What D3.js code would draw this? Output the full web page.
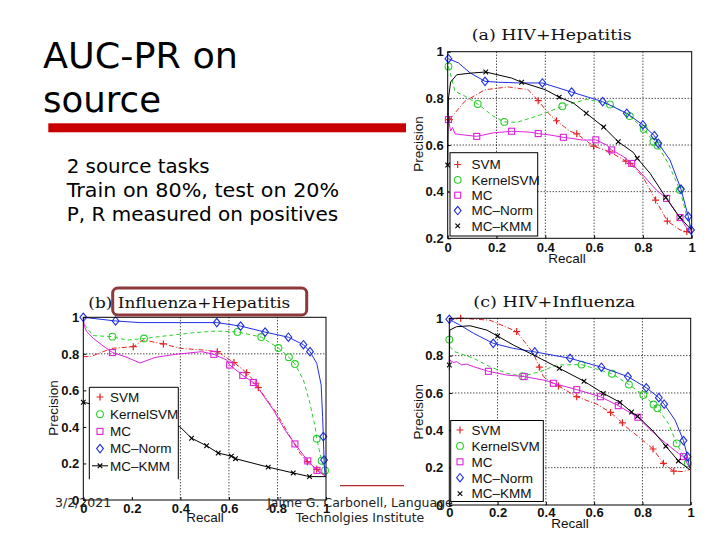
<!DOCTYPE html>
<html><head><meta charset="utf-8">
<script src="https://cdn.jsdelivr.net/npm/d3@7"></script>
<style>body{margin:0;background:#fff} svg{display:block}</style>
</head><body>
<svg id="c" width="720" height="540"></svg>
<script>
// ---------------- data ----------------
const seriesNames = ["SVM", "KernelSVM", "MC", "MC\u2013Norm", "MC\u2013KMM"];
const xTickValues = [0, 0.2, 0.4, 0.6, 0.8, 1];
const yTickValuesA = [0.2, 0.4, 0.6, 0.8, 1];
const yTickValuesBC = [0, 0.2, 0.4, 0.6, 0.8, 1];
const plotTitles = ["(a) HIV+Hepatitis", "(b) Influenza+Hepatitis", "(c) HIV+Influenza"];
const slideTitle = ["AUC-PR on", "source"];
const bullets = ["2 source tasks", "Train on 80%, test on 20%", "P, R measured on positives"];
const footerDate = "3/2/2021";
const footerAuthor = ["Jaime G. Carbonell, Language", "Technolgies Institute"];

// each point: [recall, precision, marker shown (1/0)]
const aSVM = [[0.007,0.709,1],[0.07,0.787,0],[0.153,0.837,0],[0.248,0.849,0],[0.33,0.837,0],[0.371,0.79,1],[0.412,0.737,0],[0.446,0.704,1],[0.501,0.659,0],[0.529,0.648,1],[0.598,0.595,1],[0.664,0.571,1],[0.73,0.531,1],[0.748,0.521,1],[0.8,0.464,0],[0.852,0.364,1],[0.9,0.274,1],[0.952,0.236,0],[0.98,0.229,1],[1.0,0.221,0]];
const aKernelSVM = [[0.003,0.937,1],[0.03,0.83,0],[0.07,0.81,0],[0.123,0.776,1],[0.185,0.725,0],[0.232,0.699,1],[0.283,0.697,0],[0.38,0.729,0],[0.47,0.766,1],[0.57,0.796,0],[0.665,0.774,1],[0.746,0.724,1],[0.803,0.669,1],[0.843,0.614,1],[0.86,0.598,1],[0.904,0.521,0],[0.952,0.407,1],[0.98,0.293,0],[0.997,0.236,0]];
const aMC = [[0.003,0.709,1],[0.012,0.66,0],[0.02,0.675,0],[0.03,0.648,0],[0.05,0.645,0],[0.119,0.637,1],[0.187,0.652,0],[0.262,0.659,1],[0.337,0.655,0],[0.371,0.649,1],[0.419,0.643,0],[0.474,0.633,1],[0.556,0.621,0],[0.607,0.622,1],[0.651,0.6,0],[0.672,0.579,1],[0.72,0.55,0],[0.754,0.521,1],[0.8,0.471,0],[0.855,0.407,0],[0.897,0.371,1],[0.952,0.289,1],[0.98,0.243,0],[0.997,0.233,0]];
const aMCNorm = [[0.003,0.97,1],[0.044,0.952,0],[0.092,0.909,0],[0.153,0.873,1],[0.208,0.869,0],[0.3,0.866,0],[0.388,0.866,1],[0.508,0.827,1],[0.635,0.786,1],[0.734,0.736,1],[0.8,0.686,1],[0.847,0.64,1],[0.863,0.607,1],[0.911,0.536,0],[0.956,0.411,1],[0.986,0.293,1],[0.997,0.236,1]];
const aMCKMM = [[0.0,0.514,1],[0.003,0.8,0],[0.012,0.87,0],[0.037,0.901,0],[0.092,0.908,0],[0.156,0.913,1],[0.262,0.887,0],[0.303,0.869,1],[0.4,0.837,0],[0.457,0.805,1],[0.515,0.78,0],[0.568,0.736,1],[0.639,0.677,1],[0.699,0.614,1],[0.761,0.568,0],[0.777,0.543,1],[0.829,0.479,0],[0.894,0.375,1],[0.939,0.307,0],[0.952,0.29,1],[0.986,0.25,0],[1.0,0.236,0]];

const bSVM = [[0.0,0.785,0],[0.03,0.785,0],[0.117,0.83,0],[0.206,0.839,1],[0.247,0.876,0],[0.33,0.854,1],[0.4,0.83,0],[0.495,0.821,0],[0.552,0.812,1],[0.621,0.752,1],[0.673,0.697,1],[0.712,0.639,1],[0.721,0.615,1],[0.797,0.474,0],[0.852,0.347,0],[0.893,0.255,0],[0.923,0.21,1],[0.962,0.168,1],[0.996,0.133,0]];
const bKernelSVM = [[0.005,0.96,0],[0.04,0.9,0],[0.12,0.894,1],[0.18,0.875,0],[0.25,0.884,1],[0.35,0.9,0],[0.45,0.915,0],[0.55,0.925,0],[0.635,0.92,1],[0.733,0.892,1],[0.804,0.832,1],[0.847,0.782,1],[0.872,0.744,1],[0.907,0.657,0],[0.934,0.529,0],[0.955,0.401,0],[0.962,0.335,1],[0.982,0.215,1],[0.996,0.162,1],[1.0,0.133,0]];
const bMC = [[0.0,0.995,0],[0.005,0.949,0],[0.014,0.922,0],[0.041,0.885,0],[0.076,0.849,0],[0.12,0.807,1],[0.172,0.785,0],[0.234,0.75,0],[0.295,0.78,0],[0.378,0.797,0],[0.488,0.812,0],[0.538,0.797,1],[0.591,0.766,0],[0.603,0.739,1],[0.657,0.682,1],[0.701,0.643,1],[0.721,0.611,0],[0.783,0.493,0],[0.831,0.383,0],[0.872,0.307,1],[0.925,0.214,1],[0.963,0.162,1],[0.998,0.13,0]];
const bMCNorm = [[0.0,1.0,1],[0.133,0.98,1],[0.234,0.971,0],[0.4,0.971,0],[0.55,0.971,1],[0.648,0.952,1],[0.749,0.919,1],[0.845,0.891,1],[0.907,0.85,1],[0.934,0.812,1],[0.962,0.748,0],[0.98,0.63,0],[0.986,0.456,0],[0.989,0.347,1],[0.992,0.219,1],[0.996,0.135,0]];
const bMCKMM = [[0.0,0.535,1],[0.1,0.505,0],[0.2,0.475,0],[0.3,0.44,0],[0.398,0.401,0],[0.446,0.338,1],[0.508,0.297,1],[0.556,0.257,1],[0.61,0.24,1],[0.627,0.226,1],[0.762,0.18,1],[0.865,0.148,1],[0.932,0.128,1],[1.0,0.128,0]];

const cSVM = [[0.0,0.99,0],[0.047,1.0,1],[0.168,0.99,0],[0.279,0.929,1],[0.327,0.848,0],[0.348,0.813,0],[0.373,0.738,1],[0.39,0.688,0],[0.417,0.661,0],[0.452,0.638,1],[0.528,0.58,1],[0.611,0.54,0],[0.668,0.496,1],[0.717,0.44,1],[0.731,0.42,0],[0.783,0.366,0],[0.844,0.3,1],[0.887,0.223,1],[0.93,0.181,1],[0.97,0.179,0],[0.995,0.19,0]];
const cKernelSVM = [[0.0,0.886,1],[0.003,0.848,0],[0.023,0.821,0],[0.1,0.786,0],[0.168,0.741,0],[0.238,0.705,0],[0.303,0.69,1],[0.376,0.714,0],[0.445,0.75,0],[0.548,0.752,1],[0.674,0.703,1],[0.744,0.645,1],[0.804,0.589,1],[0.846,0.538,1],[0.862,0.518,1],[0.907,0.438,0],[0.942,0.33,1],[0.963,0.277,0],[0.988,0.223,1],[0.997,0.205,0]];
const cMC = [[0.0,0.723,0],[0.003,0.777,0],[0.017,0.763,0],[0.03,0.768,0],[0.051,0.75,0],[0.072,0.755,0],[0.1,0.741,0],[0.162,0.716,1],[0.238,0.696,0],[0.31,0.688,1],[0.403,0.666,0],[0.431,0.652,1],[0.528,0.618,1],[0.626,0.58,1],[0.7,0.532,1],[0.781,0.47,1],[0.835,0.4,0],[0.897,0.33,0],[0.949,0.277,0],[0.97,0.259,1],[0.995,0.2,0]];
const cMCNorm = [[0.0,0.995,1],[0.017,0.982,0],[0.044,0.964,0],[0.1,0.92,0],[0.182,0.866,1],[0.265,0.839,0],[0.354,0.82,1],[0.5,0.786,1],[0.63,0.738,1],[0.74,0.688,1],[0.816,0.628,1],[0.868,0.575,1],[0.89,0.54,1],[0.935,0.455,0],[0.97,0.345,1],[0.987,0.259,1],[0.996,0.196,0]];
const cMCKMM = [[0.0,0.75,1],[0.002,0.937,0],[0.03,0.955,0],[0.086,0.96,0],[0.155,0.937,0],[0.2,0.905,1],[0.265,0.857,0],[0.348,0.804,0],[0.456,0.732,1],[0.558,0.663,1],[0.638,0.598,1],[0.707,0.55,1],[0.755,0.498,1],[0.78,0.475,1],[0.845,0.395,0],[0.897,0.315,1],[0.949,0.236,1],[0.997,0.188,0]];

// ---------------- styles / layout ----------------
const seriesStyle = [
  {color: "#e52222", dash: "5,2,1,2", marker: "plus"},
  {color: "#2bcf2b", dash: "4,3", marker: "circle"},
  {color: "#dd22dd", dash: null, marker: "square"},
  {color: "#1f2fe0", dash: null, marker: "diamond"},
  {color: "#000000", dash: null, marker: "cross"}
];
const tickFont = "'Liberation Sans', Arial, sans-serif";
const slideFont = "'DejaVu Sans', Verdana, sans-serif";
const svg = d3.select("#c");

// slide texts
const slide = svg.append("g");
const titleLen = [195, 118];
slide.selectAll("text.t").data(slideTitle).join("text")
  .attr("x", 43).attr("y", (d, i) => 68 + i * 43.5)
  .attr("font-family", slideFont).attr("font-size", 35.5)
  .attr("textLength", (d, i) => titleLen[i]).attr("lengthAdjust", "spacingAndGlyphs")
  .attr("fill", "#000").text(d => d);
slide.append("rect").attr("x", 48.3).attr("y", 123.3).attr("width", 357.7).attr("height", 9).attr("fill", "#c80000");
const bulletLen = [143, 272.5, 271.5];
slide.selectAll("text.b").data(bullets).join("text")
  .attr("x", 66.7).attr("y", (d, i) => 172.7 + i * 24)
  .attr("font-family", slideFont).attr("font-size", 19.5)
  .attr("textLength", (d, i) => bulletLen[i]).attr("lengthAdjust", "spacingAndGlyphs")
  .attr("fill", "#000").text(d => d);

function marker(g, type, x, y, color) {
  if (type === "plus") {
    g.append("path").attr("d", `M${x-3.5},${y}H${x+3.5}M${x},${y-3.5}V${y+3.5}`).attr("stroke", color).attr("stroke-width", 1.2).attr("fill", "none");
  } else if (type === "circle") {
    g.append("circle").attr("cx", x).attr("cy", y).attr("r", 3.4).attr("stroke", color).attr("stroke-width", 1.1).attr("fill", "none");
  } else if (type === "square") {
    g.append("rect").attr("x", x - 3).attr("y", y - 3).attr("width", 6).attr("height", 6).attr("stroke", color).attr("stroke-width", 1.1).attr("fill", "none");
  } else if (type === "diamond") {
    g.append("path").attr("d", `M${x},${y-4.2}L${x+3.4},${y}L${x},${y+4.2}L${x-3.4},${y}Z`).attr("stroke", color).attr("stroke-width", 1.1).attr("fill", "none");
  } else if (type === "cross") {
    g.append("path").attr("d", `M${x-2.3},${y-2.3}L${x+2.3},${y+2.3}M${x+2.3},${y-2.3}L${x-2.3},${y+2.3}`).attr("stroke", color).attr("stroke-width", 1.1).attr("fill", "none");
  }
}

function drawPlot(cfg) {
  const g = svg.append("g");
  const x = d3.scaleLinear().domain([0, 1]).range([cfg.left, cfg.right]);
  const y = d3.scaleLinear().domain([cfg.yMin, 1]).range([cfg.bottom, cfg.top]);
  const w = cfg.right - cfg.left, h = cfg.bottom - cfg.top;
  g.append("rect").attr("x", cfg.left).attr("y", cfg.top).attr("width", w).attr("height", h).attr("fill", "#fff");
  // grid
  const grid = g.append("g").attr("stroke", "#000").attr("stroke-width", 1).attr("stroke-dasharray", "1,2");
  cfg.gridX.forEach(v => grid.append("line").attr("x1", x(v)).attr("x2", x(v)).attr("y1", cfg.top).attr("y2", cfg.bottom));
  cfg.gridY.forEach(v => grid.append("line").attr("y1", y(v)).attr("y2", y(v)).attr("x1", cfg.left).attr("x2", cfg.right));
  // axes
  const fmt = d => d === 1 ? "1" : d === 0 ? "0" : d3.format(".1f")(d);
  const ax = g.append("g").attr("transform", `translate(0,${cfg.bottom})`)
    .call(d3.axisBottom(x).tickValues(xTickValues).tickFormat(fmt).tickSize(-3).tickPadding(cfg.xPad));
  const ay = g.append("g").attr("transform", `translate(${cfg.left},0)`)
    .call(d3.axisLeft(y).tickValues(cfg.yTicks).tickFormat(fmt).tickSize(-3).tickPadding(cfg.yPad));
  [ax, ay].forEach(a => {
    a.select(".domain").remove();
    a.selectAll("text").attr("font-family", tickFont).attr("font-size", 13).attr("font-weight", "bold").attr("fill", "#111");
    a.selectAll("line").attr("stroke", "#000");
  });
  // curves
  const line = d3.line().x(d => x(d[0])).y(d => y(d[1]));
  cfg.series.forEach((s, i) => {
    const st = seriesStyle[i];
    g.append("path").attr("d", line(s)).attr("fill", "none").attr("stroke", st.color)
      .attr("stroke-width", 1).attr("stroke-dasharray", st.dash);
    const mg = g.append("g");
    s.filter(d => d[2]).forEach(d => marker(mg, st.marker, x(d[0]), y(d[1]), st.color));
  });
  // box
  g.append("rect").attr("x", cfg.left).attr("y", cfg.top).attr("width", w).attr("height", h)
    .attr("fill", "none").attr("stroke", "#000").attr("stroke-width", 1);
  // legend
  const L = cfg.legend;
  const lg = g.append("g");
  lg.append("rect").attr("x", L.x).attr("y", L.y).attr("width", L.w).attr("height", L.h).attr("fill", "#fff");
  if (L.noBottom) {
    lg.append("path").attr("d", `M${L.x},${L.y + L.h}V${L.y}H${L.x + L.w}V${L.y + L.h}`).attr("fill", "none").attr("stroke", "#000");
  } else {
    lg.append("rect").attr("x", L.x).attr("y", L.y).attr("width", L.w).attr("height", L.h).attr("fill", "none").attr("stroke", "#000");
  }
  seriesNames.forEach((n, i) => {
    const yy = L.y0 + i * L.dy;
    const st = seriesStyle[i];
    if (L.lineFor && L.lineFor.includes(i)) {
      lg.append("line").attr("x1", L.mx - 8).attr("x2", L.mx + 8).attr("y1", yy).attr("y2", yy).attr("stroke", st.color);
    }
    marker(lg, st.marker, L.mx, yy, st.color);
    lg.append("text").attr("x", L.tx).attr("y", yy).attr("dy", "0.36em")
      .attr("font-family", tickFont).attr("font-size", 13.5).attr("fill", "#111").text(n);
  });
  // labels
  g.append("text").attr("transform", `translate(${cfg.yLab[0]},${cfg.yLab[1]}) rotate(-90)`)
    .attr("text-anchor", "middle").attr("dy", "0.36em")
    .attr("font-family", tickFont).attr("font-size", 13.5).attr("fill", "#111").text("Precision");
  g.append("text").attr("x", cfg.xLab[0]).attr("y", cfg.xLab[1]).attr("text-anchor", "middle")
    .attr("font-family", tickFont).attr("font-size", 13.5).attr("fill", "#111").text("Recall");
  // title
  g.append("text").attr("x", cfg.title[0]).attr("y", cfg.title[1])
    .attr("font-family", "'DejaVu Serif', 'Liberation Serif', serif").attr("font-size", 15.5)
    .attr("textLength", cfg.title[2]).attr("lengthAdjust", "spacingAndGlyphs")
    .attr("fill", "#111").text(cfg.text);
  return g;
}

drawPlot({left: 447.7, right: 691.7, top: 51.7, bottom: 238.3, yMin: 0.2, yTicks: yTickValuesA,
  gridX: [0.2, 0.4, 0.6, 0.8], gridY: [0.4, 0.6, 0.8], xPad: 4, yPad: 4,
  series: [aSVM, aKernelSVM, aMC, aMCNorm, aMCKMM],
  legend: {x: 450, y: 152.7, w: 87.7, h: 83.3, y0: 164.5, dy: 15.35, mx: 457.7, tx: 471.5},
  yLab: [418.3, 144], xLab: [567, 263], title: [471.7, 40, 160], text: plotTitles[0]});

drawPlot({left: 83.3, right: 326, top: 317.3, bottom: 500, yMin: 0, yTicks: yTickValuesBC,
  gridX: [0.4, 0.6, 0.8], gridY: [0.8], xPad: 4, yPad: 4,
  series: [bSVM, bKernelSVM, bMC, bMCNorm, bMCKMM],
  legend: {x: 89.3, y: 387.3, w: 89, h: 92, y0: 397, dy: 17.2, mx: 100, tx: 110, noBottom: true, lineFor: [4]},
  yLab: [53.3, 408], xLab: [205, 521.7], title: [88.3, 308, 202], text: plotTitles[1]});

drawPlot({left: 449.3, right: 690.7, top: 318.3, bottom: 505, yMin: 0, yTicks: yTickValuesBC,
  gridX: [0.2, 0.4, 0.6, 0.8], gridY: [0.2, 0.4, 0.6, 0.8], xPad: 3, yPad: 6,
  series: [cSVM, cKernelSVM, cMC, cMCNorm, cMCKMM],
  legend: {x: 450.7, y: 420.5, w: 92.6, h: 81, y0: 430, dy: 15.9, mx: 460, tx: 471.5},
  yLab: [418.3, 411.7], xLab: [570, 528.3], title: [473.3, 306.7, 162], text: plotTitles[2]});

// highlight around (b) title
svg.append("rect").attr("x", 112.7).attr("y", 288).attr("width", 194).attr("height", 27).attr("rx", 5)
  .attr("fill", "none").attr("stroke", "#8e3a3a").attr("stroke-width", 3);

// footer
svg.append("line").attr("x1", 340).attr("x2", 404).attr("y1", 485.7).attr("y2", 485.7).attr("stroke", "#b22a2a").attr("stroke-width", 1.3);
svg.append("text").attr("x", 55).attr("y", 506.5).attr("font-family", slideFont)
  .attr("font-size", 12.5).attr("fill", "#222").text(footerDate);
svg.selectAll("text.f").data(footerAuthor).join("text")
  .attr("x", 360).attr("y", (d, i) => 506.5 + i * 15).attr("text-anchor", "middle")
  .attr("font-family", slideFont).attr("font-size", 12.5).attr("fill", "#222").text(d => d);
</script>
</body></html>
